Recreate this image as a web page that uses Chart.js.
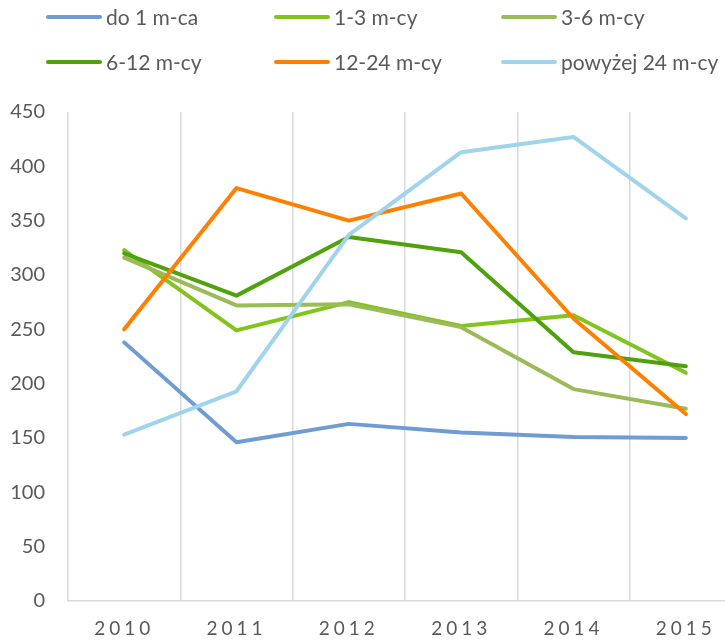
<!DOCTYPE html>
<html>
<head>
<meta charset="utf-8">
<script src="https://cdn.jsdelivr.net/npm/chart.js@4/dist/chart.umd.min.js"></script>
<style>
  html, body { margin: 0; padding: 0; background: #fff; overflow: hidden; }
  #wrap { width: 745px; height: 640px; }
</style>
</head>
<body>
<div id="wrap"><canvas id="chart" width="745" height="640"></canvas></div>
<script>
// categories and series
const years = ['2010', '2011', '2012', '2013', '2014', '2015'];
const seriesNames = ['do 1 m-ca', '1-3 m-cy', '3-6 m-cy', '6-12 m-cy', '12-24 m-cy', 'powyżej 24 m-cy'];
const do1 = [238, 146, 163, 155, 151, 150];
const m1to3 = [323, 249, 275, 253, 263, 210];
const m3to6 = [316, 272, 273, 252, 195, 177];
const m6to12 = [320, 281, 335, 321, 229, 216];
const m12to24 = [250, 380, 350, 375, 260, 172];
const over24 = [153, 193, 337, 413, 427, 352];
const yTicks = [0, 50, 100, 150, 200, 250, 300, 350, 400, 450];

const colors = ['#709CD4', '#80C41C', '#9BBB59', '#4FA10D', '#FF7F00', '#A0D4EC'];
const allValues = [do1, m1to3, m3to6, m6to12, m12to24, over24];

const FONT = 'Lato, "Open Sans", sans-serif';
const TEXT = '#595959';

// legend drawn in the top padding, 3 columns x 2 rows
const legendGrid = {
  id: 'legendGrid',
  afterDraw(chart) {
    const ctx = chart.ctx;
    const cols = [48, 276, 503];
    const rows = [17, 62];
    ctx.save();
    ctx.font = '21px ' + FONT;
    ctx.fillStyle = TEXT;
    ctx.textBaseline = 'middle';
    ctx.lineCap = 'round';
    chart.data.datasets.forEach((ds, i) => {
      const x = cols[i % 3], y = rows[Math.floor(i / 3)];
      ctx.strokeStyle = ds.borderColor;
      ctx.lineWidth = 4;
      ctx.beginPath();
      ctx.moveTo(x, y);
      ctx.lineTo(x + 52, y);
      ctx.stroke();
      ctx.fillText(ds.label, x + 58, y + 1);
    });
    ctx.restore();
  }
};

// spaced-out year labels like the original
const spacedX = {
  id: 'spacedX',
  beforeDraw(chart) {
    const xs = chart.scales.x;
    if (xs._spaced) return;
    const orig = xs.drawLabels;
    xs.drawLabels = function (area) {
      this.ctx.save();
      this.ctx.letterSpacing = '4px';
      orig.call(this, area);
      this.ctx.restore();
    };
    xs._spaced = true;
  }
};

new Chart(document.getElementById('chart'), {
  type: 'line',
  data: {
    labels: years,
    datasets: seriesNames.map((name, i) => ({
      label: name,
      data: allValues[i],
      borderColor: colors[i],
      backgroundColor: colors[i],
      borderWidth: 4,
      pointRadius: 0,
      tension: 0,
      borderCapStyle: 'round',
      borderJoinStyle: 'round',
      order: seriesNames.length - i
    }))
  },
  options: {
    responsive: false,
    animation: false,
    layout: { padding: { top: 112, left: 0, right: 3, bottom: 1 } },
    plugins: {
      legend: { display: false },
      tooltip: { enabled: false }
    },
    scales: {
      x: {
        offset: true,
        afterFit(scale) { scale.height = 38; },
        grid: { display: true, offset: true, color: '#D9D9D9', lineWidth: 1.5, drawTicks: false },
        border: { display: true, color: '#D9D9D9', width: 1.5 },
        ticks: { color: TEXT, font: { family: FONT, size: 19 }, padding: 16, maxRotation: 0 }
      },
      y: {
        min: 0,
        max: 450,
        afterFit(scale) { scale.width = 68; },
        afterBuildTicks(scale) { scale.ticks = yTicks.map(v => ({ value: v })); },
        grid: { display: false },
        border: { display: false },
        ticks: { color: TEXT, font: { family: FONT, size: 20 }, padding: 15 }
      }
    }
  },
  plugins: [legendGrid, spacedX]
});
</script>
</body>
</html>
